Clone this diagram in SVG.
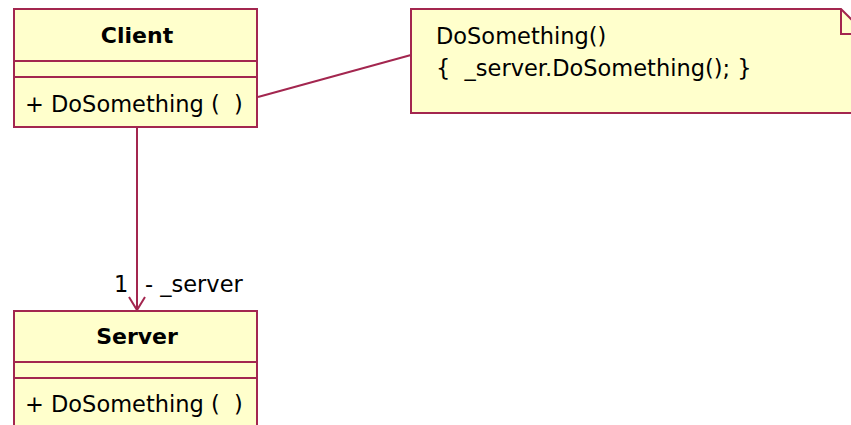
<svg xmlns="http://www.w3.org/2000/svg" width="851" height="425" viewBox="0 0 851 425">
<style>
.box{fill:#FFFFCC;stroke:#A3264F;stroke-width:2}
.ln{fill:none;stroke:#A3264F;stroke-width:2}
.t{font-family:"DejaVu Sans",Verdana,sans-serif;font-size:22.5px;fill:#000;white-space:pre}
.b{font-weight:bold;font-size:22px;text-anchor:middle}
</style>
<rect width="851" height="425" fill="#fff"/>
<g id="connectors">
<line class="ln" x1="258" y1="97" x2="411" y2="55"/>
<line class="ln" x1="137" y1="127" x2="137" y2="310"/>
<polyline class="ln" points="129,297 137,310 145,297"/>
<text class="t" x="114" y="292">1</text>
<text class="t" x="145" y="292">- _server</text>
</g>
<g id="client">
<rect class="box" x="14" y="9" width="243" height="118"/>
<line class="ln" x1="14" y1="61" x2="257" y2="61"/>
<line class="ln" x1="14" y1="77" x2="257" y2="77"/>
<text class="t b" x="137" y="43">Client</text>
<text class="t" x="25" y="112" xml:space="preserve">+ DoSomething (  )</text>
</g>
<g id="server">
<rect class="box" x="14" y="311" width="243" height="130"/>
<line class="ln" x1="14" y1="362" x2="257" y2="362"/>
<line class="ln" x1="14" y1="378" x2="257" y2="378"/>
<text class="t b" x="137" y="344">Server</text>
<text class="t" x="25" y="412" xml:space="preserve">+ DoSomething (  )</text>
</g>
<g id="note">
<polygon class="box" points="411,9 841,9 866,34 866,113 411,113"/>
<polyline class="ln" points="841,9 841,34 866,34"/>
<text class="t" x="436" y="44">DoSomething()</text>
<text class="t" x="436" y="76" xml:space="preserve">{  _server.DoSomething(); }</text>
</g>
</svg>
